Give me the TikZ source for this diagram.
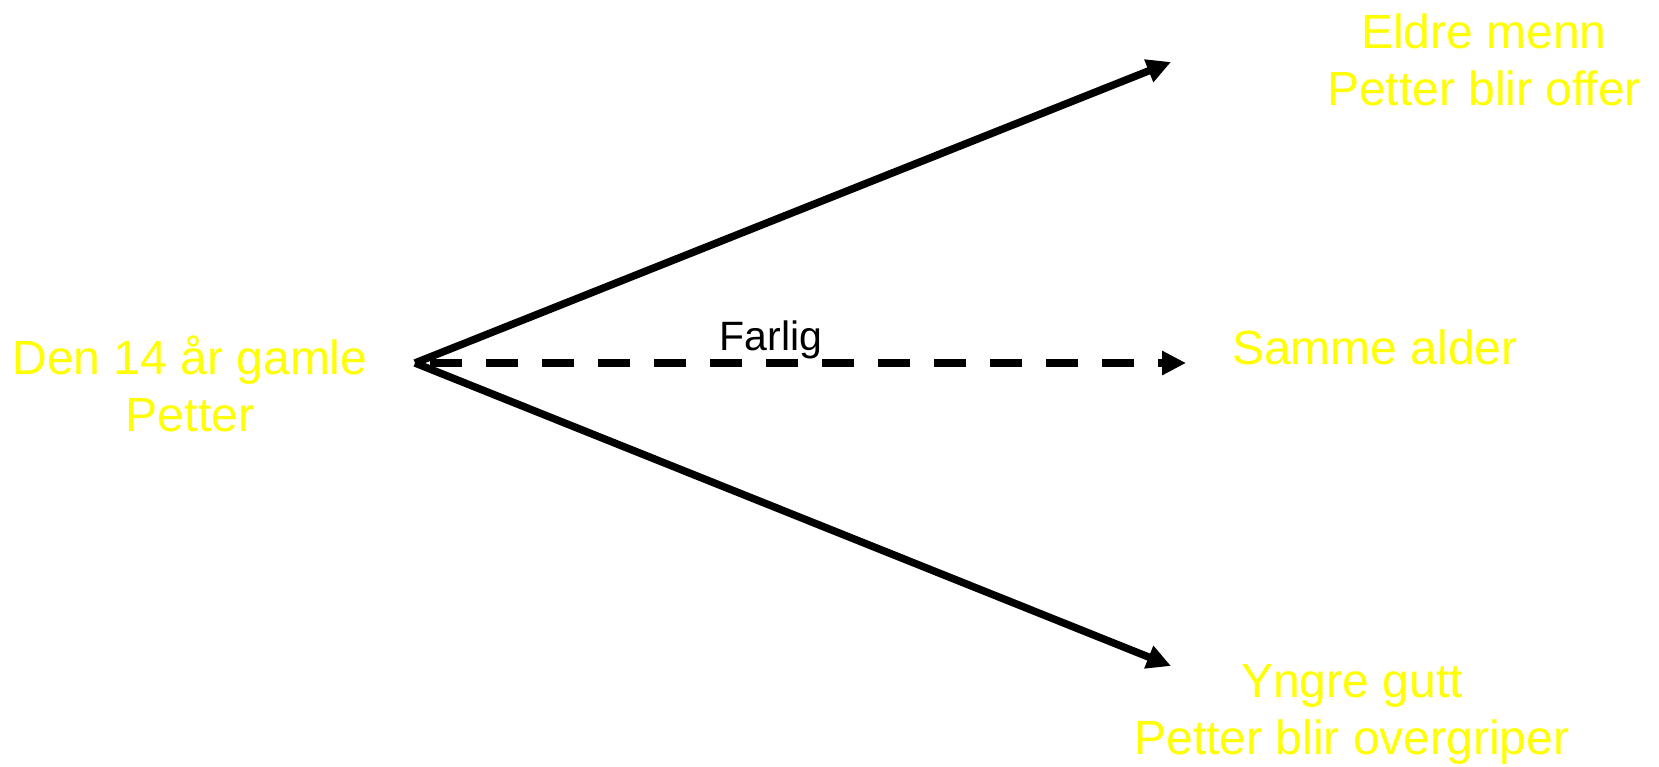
\documentclass[tikz,border=0pt]{standalone}
\usepackage{fontspec}
\setmainfont{Liberation Sans}
\usetikzlibrary{arrows.meta}
\definecolor{lbl}{HTML}{FFFF00}
\begin{document}
\begin{tikzpicture}[x=1pt,y=-1pt,
  lbltext/.style={text=lbl,font=\fontsize{48}{57}\selectfont,align=center,inner sep=0pt,anchor=base},
  conn/.style={line width=7.5pt,-{Triangle[length=24pt,width=23pt]}},
  dconn/.style={conn,dash pattern=on 32pt off 24pt,dash phase=41pt}]
\useasboundingbox[fill=white] (0,0) rectangle (1659,767);
\node[lbltext] (src) at (190,431) {Den 14 år gamle\\Petter};
\node[lbltext] (old) at (1484,106) {Eldre menn\\Petter blir offer};
\node[lbltext] (same) at (1375,364) {Samme alder};
\node[lbltext] (young) at (1352,754) {Yngre gutt\\Petter blir overgriper};
\coordinate (apex) at (415,363);
\coordinate (tipold) at (1171,62);
\coordinate (tipsame) at (1186,363);
\coordinate (tipyoung) at (1171,666);
\draw[conn] (apex) -- (tipold);
\draw[conn] (apex) -- (tipyoung);
\draw[dconn] (apex) -- (tipsame);
\node[font=\fontsize{41}{48}\selectfont,inner sep=0pt,anchor=base] (farlig) at (771,350) {Farlig};
\end{tikzpicture}
\end{document}
